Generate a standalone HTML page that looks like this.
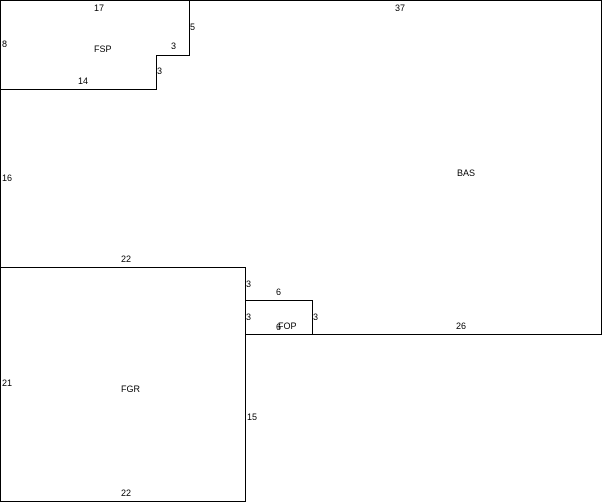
<!DOCTYPE html>
<html><head><style>
html,body{margin:0;padding:0;background:#fff;}
svg{display:block;}
text{font-family:"Liberation Sans",Arial,sans-serif;font-size:9px;fill:#000;}
</style></head><body>
<svg width="602" height="502" viewBox="0 0 602 502">
<g stroke="#000" stroke-width="1" fill="none" shape-rendering="crispEdges">
<line x1="0" y1="0.5" x2="602" y2="0.5"/>
<line x1="601.5" y1="0" x2="601.5" y2="334"/>
<line x1="245" y1="334.5" x2="602" y2="334.5"/>
<line x1="0.5" y1="0" x2="0.5" y2="502"/>
<line x1="189.5" y1="0" x2="189.5" y2="55"/>
<line x1="156" y1="55.5" x2="190" y2="55.5"/>
<line x1="156.5" y1="55" x2="156.5" y2="89"/>
<line x1="0" y1="89.5" x2="157" y2="89.5"/>
<line x1="0" y1="267.5" x2="246" y2="267.5"/>
<line x1="245.5" y1="267" x2="245.5" y2="502"/>
<line x1="0" y1="501.5" x2="246" y2="501.5"/>
<line x1="245" y1="300.5" x2="313" y2="300.5"/>
<line x1="312.5" y1="300" x2="312.5" y2="335"/>
</g>
<text x="94" y="11">17</text>
<text x="395" y="11">37</text>
<text x="2" y="47">8</text>
<text x="94" y="52">FSP</text>
<text x="190" y="30">5</text>
<text x="171" y="49">3</text>
<text x="157" y="74">3</text>
<text x="78" y="84">14</text>
<text x="2" y="181">16</text>
<text x="457" y="176">BAS</text>
<text x="121" y="262">22</text>
<text x="246" y="287">3</text>
<text x="276" y="295">6</text>
<text x="246" y="320">3</text>
<text x="278" y="329">FOP</text>
<text x="276" y="330">6</text>
<text x="313" y="320">3</text>
<text x="456" y="329">26</text>
<text x="2" y="386">21</text>
<text x="121" y="392">FGR</text>
<text x="247" y="420">15</text>
<text x="121" y="496">22</text>
</svg>
</body></html>
